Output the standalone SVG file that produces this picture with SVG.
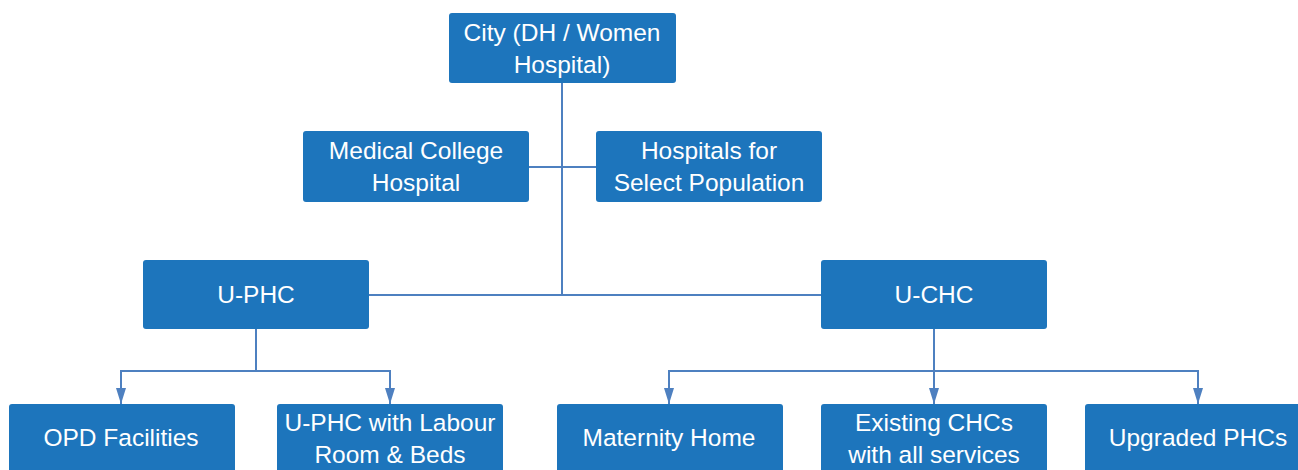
<svg xmlns="http://www.w3.org/2000/svg" width="1298" height="470" viewBox="0 0 1298 470">
<style>
.box{fill:#1d75bc;}
.lbl{fill:#ffffff;font-family:"Liberation Sans","Open Sans",sans-serif;font-size:24.5px;text-anchor:middle;}
.ln{stroke:#4e80c0;stroke-width:2;fill:none;}
</style>
<defs>
<marker id="arr" markerWidth="16" markerHeight="10" refX="16" refY="5" orient="auto" markerUnits="userSpaceOnUse" viewBox="0 0 16 10">
<path d="M0,0 L16,5 L0,10 Z" fill="#4e80c0"/>
</marker>
</defs>
<rect width="1298" height="470" fill="#ffffff"/>
<g id="connectors">
<path class="ln" d="M562,83 V295"/>
<path class="ln" d="M529,167 H596"/>
<path class="ln" d="M369,295 H821"/>
<path class="ln" d="M256,329 V371"/>
<path class="ln" d="M121,371 H390"/>
<path class="ln" d="M121,370 V404" marker-end="url(#arr)"/>
<path class="ln" d="M390,370 V404" marker-end="url(#arr)"/>
<path class="ln" d="M934,329 V404" marker-end="url(#arr)"/>
<path class="ln" d="M669,371 H1198"/>
<path class="ln" d="M669,370 V404" marker-end="url(#arr)"/>
<path class="ln" d="M1198,370 V404" marker-end="url(#arr)"/>
</g>
<g id="city">
<rect class="box" x="449" y="13" width="227" height="70" rx="3"/>
<text class="lbl" x="562" y="41">City (DH / Women</text>
<text class="lbl" x="562" y="73">Hospital)</text>
</g>
<g id="medical-college">
<rect class="box" x="303" y="131" width="226" height="71" rx="3"/>
<text class="lbl" x="416" y="159">Medical College</text>
<text class="lbl" x="416" y="191">Hospital</text>
</g>
<g id="hospitals-select">
<rect class="box" x="596" y="131" width="226" height="71" rx="3"/>
<text class="lbl" x="709" y="159">Hospitals for</text>
<text class="lbl" x="709" y="191">Select Population</text>
</g>
<g id="uphc">
<rect class="box" x="143" y="260" width="226" height="69" rx="3"/>
<text class="lbl" x="256" y="303">U-PHC</text>
</g>
<g id="uchc">
<rect class="box" x="821" y="260" width="226" height="69" rx="3"/>
<text class="lbl" x="934" y="303">U-CHC</text>
</g>
<g id="opd">
<rect class="box" x="9" y="404" width="226" height="80" rx="3"/>
<text class="lbl" x="121" y="446">OPD Facilities</text>
</g>
<g id="uphc-labour">
<rect class="box" x="277" y="404" width="226" height="80" rx="3"/>
<text class="lbl" x="390" y="431">U-PHC with Labour</text>
<text class="lbl" x="390" y="463">Room &amp; Beds</text>
</g>
<g id="maternity">
<rect class="box" x="557" y="404" width="226" height="80" rx="3"/>
<text class="lbl" x="669" y="446">Maternity Home</text>
</g>
<g id="existing-chcs">
<rect class="box" x="821" y="404" width="226" height="80" rx="3"/>
<text class="lbl" x="934" y="431">Existing CHCs</text>
<text class="lbl" x="934" y="463">with all services</text>
</g>
<g id="upgraded-phcs">
<rect class="box" x="1085" y="404" width="226" height="80" rx="3"/>
<text class="lbl" x="1198" y="446">Upgraded PHCs</text>
</g>
</svg>
